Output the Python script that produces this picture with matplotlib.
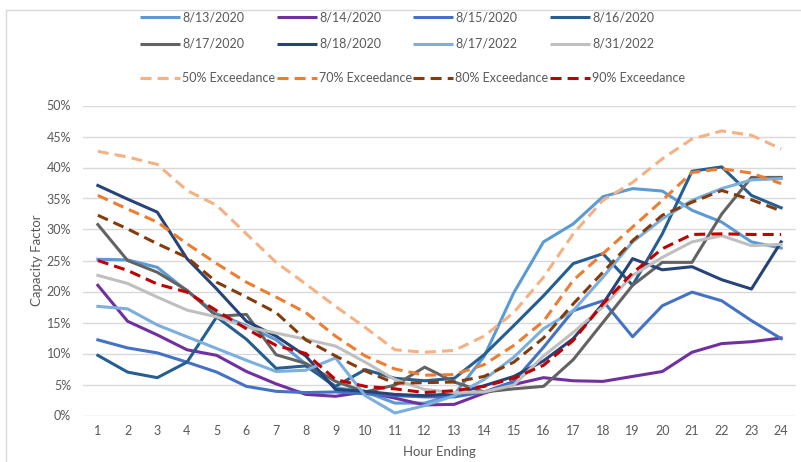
import matplotlib
matplotlib.use("Agg")
import matplotlib.pyplot as plt
from matplotlib.lines import Line2D
from matplotlib.patches import Rectangle
from matplotlib.ticker import PercentFormatter

plt.rcParams['font.family'] = ['Lato', 'DejaVu Sans']

hours = list(range(1, 25))

# hourly capacity factor, percent
cf_0813_2020 = [25.2, 25.1, 23.9, 20.1, 16.4, 14.5, 12.2, 8.3, 4.5, 3.8, 2.0, 2.0,
                3.4, 9.5, 19.8, 28.0, 30.9, 35.3, 36.6, 36.2, 33.1, 31.2, 28.0, 27.0]
cf_0814_2020 = [21.0, 15.2, 13.0, 10.6, 9.7, 7.1, 5.1, 3.4, 3.1, 3.8, 2.8, 1.7,
                1.8, 3.6, 5.0, 6.1, 5.6, 5.5, 6.3, 7.1, 10.2, 11.6, 11.9, 12.5]
cf_0815_2020 = [12.2, 10.9, 10.1, 8.6, 7.0, 4.7, 3.9, 3.7, 3.8, 3.5, 3.2, 3.0,
                3.0, 3.8, 5.5, 11.0, 16.9, 18.5, 12.7, 17.7, 19.9, 18.5, 15.3, 12.4]
cf_0816_2020 = [9.7, 7.0, 6.1, 8.6, 15.9, 12.3, 7.6, 8.0, 4.7, 7.4, 6.0, 5.6,
                6.0, 9.8, 14.5, 19.3, 24.5, 26.1, 21.0, 29.3, 39.4, 40.1, 35.5, 33.5]
cf_0817_2020 = [30.8, 25.0, 23.1, 20.2, 16.0, 16.3, 9.8, 8.4, 5.5, 3.8, 4.9, 7.8,
                5.4, 3.8, 4.3, 4.7, 9.0, 15.0, 21.0, 24.7, 24.7, 32.5, 38.4, 38.4]
cf_0818_2020 = [37.1, 34.9, 32.8, 25.3, 20.4, 15.2, 12.8, 9.6, 4.2, 3.9, 3.4, 3.2,
                3.5, 4.8, 6.3, 8.8, 12.4, 18.0, 25.3, 23.5, 24.0, 21.9, 20.4, 28.0]
cf_0817_2022 = [17.6, 17.2, 14.6, 12.7, 10.8, 8.9, 7.1, 7.3, 9.3, 3.2, 0.4, 1.6,
                3.2, 5.8, 9.4, 14.0, 16.9, 22.3, 28.0, 31.7, 34.7, 36.6, 38.0, 38.2]
cf_0831_2022 = [22.6, 21.3, 19.1, 17.0, 15.9, 14.3, 13.3, 12.3, 11.2, 8.6, 5.8, 4.2,
                3.7, 3.8, 4.9, 9.6, 13.4, 17.5, 22.6, 25.5, 28.0, 29.0, 27.4, 27.6]

# exceedance profiles, percent
exc_50 = [42.6, 41.7, 40.5, 36.3, 33.9, 29.3, 24.7, 21.2, 17.6, 14.2, 10.6, 10.2,
          10.5, 12.8, 16.6, 22.3, 29.3, 34.7, 37.6, 41.4, 44.6, 45.9, 45.2, 43.0]
exc_70 = [35.5, 33.3, 31.2, 27.7, 24.5, 21.5, 19.1, 16.6, 12.8, 9.6, 7.5, 6.5,
          6.6, 8.2, 11.3, 15.2, 21.8, 26.1, 30.4, 34.7, 39.2, 39.8, 39.1, 37.4]
exc_80 = [32.3, 30.1, 27.7, 25.5, 21.5, 19.1, 16.6, 12.2, 9.6, 7.2, 5.2, 5.3,
          5.4, 6.3, 8.6, 12.5, 18.0, 23.1, 28.2, 32.3, 34.4, 36.3, 34.8, 33.0]
exc_90 = [25.0, 23.4, 21.2, 19.9, 16.9, 14.0, 11.3, 10.0, 5.8, 4.7, 4.3, 3.7,
          4.0, 4.7, 6.0, 8.1, 12.1, 18.0, 23.0, 26.9, 29.2, 29.3, 29.2, 29.2]

day_labels = ["8/13/2020", "8/14/2020", "8/15/2020", "8/16/2020",
              "8/17/2020", "8/18/2020", "8/17/2022", "8/31/2022"]
day_series = [cf_0813_2020, cf_0814_2020, cf_0815_2020, cf_0816_2020,
              cf_0817_2020, cf_0818_2020, cf_0817_2022, cf_0831_2022]
day_colors = ["#5B9BD5", "#7030A0", "#4472C4", "#255E91",
              "#636363", "#264478", "#7CAFDD", "#BFBFBF"]

exc_labels = ["50% Exceedance", "70% Exceedance", "80% Exceedance", "90% Exceedance"]
exc_series = [exc_50, exc_70, exc_80, exc_90]
exc_colors = ["#F4B183", "#ED7D31", "#843C0C", "#C00000"]

W, H = 801, 462
fig = plt.figure(figsize=(W / 100, H / 100), dpi=100)

# plot area
x0, x1 = 83, 796
y_top, y_bot = 105.5, 415.5
ax = fig.add_axes([x0 / W, 1 - y_bot / H, (x1 - x0) / W, (y_bot - y_top) / H])

LW = 2.2
text_col = "#595959"

for vals, col in zip(day_series, day_colors):
    ax.plot(hours, [v / 100 for v in vals], color=col, lw=LW,
            solid_joinstyle="round", zorder=3)
for vals, col in zip(exc_series, exc_colors):
    ax.plot(hours, [v / 100 for v in vals], color=col, lw=LW,
            dashes=(3.6, 2.0), dash_capstyle="butt", zorder=4)

ax.set_xlim(0.5, 24.5)
ax.set_ylim(0, 0.5)
ax.set_xticks(hours)
ax.set_yticks([i * 0.05 for i in range(11)])
ax.yaxis.set_major_formatter(PercentFormatter(1.0, decimals=0))
ax.grid(axis="y", color="#D9D9D9", lw=1.0)
ax.set_axisbelow(True)
for s in ax.spines.values():
    s.set_visible(False)
ax.tick_params(length=0, labelsize=9, colors=text_col)
ax.tick_params(axis="x", pad=6.5)
ax.tick_params(axis="y", pad=8.5)
ax.set_xlabel("Hour Ending", fontsize=9.5, color=text_col, labelpad=7)
ax.set_ylabel("Capacity Factor", fontsize=9.5, color=text_col, labelpad=3)

# legend laid out in figure pixels
col_x = [140, 277, 413, 550]
row_y = [17, 44, 78]
seg = 40


def legend_entry(xp, yp, label, color, dashed):
    kw = dict(color=color, lw=LW, transform=None)
    xs = [xp * 1.0, xp + seg]
    ys = [H - yp, H - yp]
    if dashed:
        ln = Line2D(xs, ys, dashes=(3.6, 2.0), dash_capstyle="butt", **kw)
    else:
        ln = Line2D(xs, ys, solid_capstyle="butt", **kw)
    fig.add_artist(ln)
    fig.text((xp + seg + 2) / W, 1 - yp / H, label, fontsize=9, color=text_col,
             ha="left", va="center")


for i, (lab, col) in enumerate(zip(day_labels, day_colors)):
    legend_entry(col_x[i % 4], row_y[i // 4], lab, col, False)
for i, (lab, col) in enumerate(zip(exc_labels, exc_colors)):
    legend_entry(col_x[i], row_y[2], lab, col, True)

# chart border
fig.add_artist(Rectangle((5.5 / W, -0.01), 1.0, 1 - 9.5 / H + 0.01,
                         transform=fig.transFigure, fill=False,
                         edgecolor="#D9D9D9", lw=1.0))

fig.savefig("out.png", dpi=100, facecolor="white")
